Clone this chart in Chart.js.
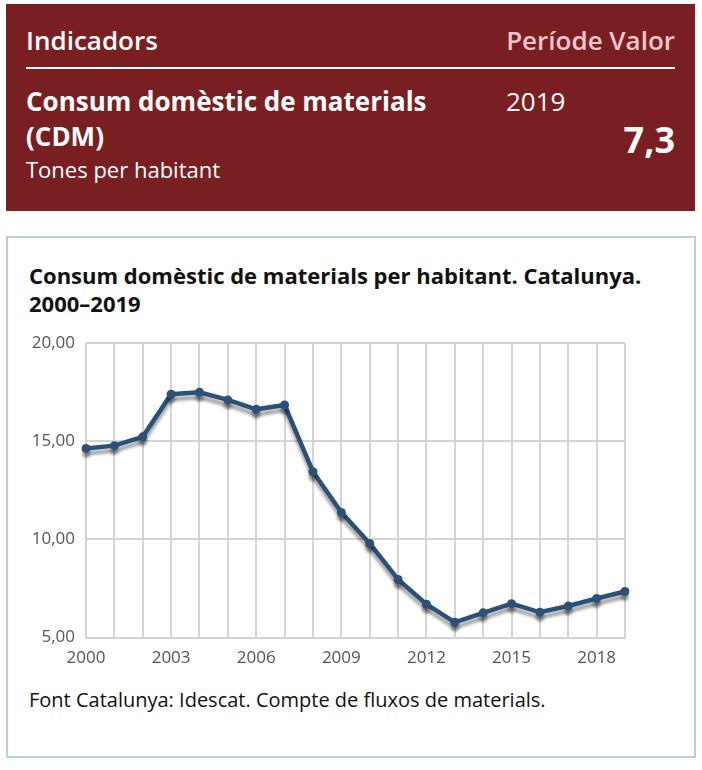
<!DOCTYPE html>
<html>
<head>
<meta charset="utf-8">
<script src="https://cdn.jsdelivr.net/npm/chart.js@4"></script>
<style>
  body { margin: 0; background: #fff; font-family: "Open Sans", sans-serif; }
  .head { position: absolute; left: 6px; top: 4px; width: 689px; height: 207px; background: #7a1f21; color: #fff; }
  .head .t { position: absolute; font-size: 26px; line-height: 35px; white-space: nowrap; }
  .head hr { position: absolute; left: 20px; top: 63px; width: 649px; margin: 0; border: 0; border-top: 2px solid #fff; }
  .panel { position: absolute; left: 6px; top: 236px; width: 686px; height: 518px; border: 2px solid #b9cde3; }
  .title { position: absolute; left: 29px; top: 261px; font-size: 22px; font-weight: bold; line-height: 28px; color: #111; white-space: nowrap; }
  .src { position: absolute; left: 29px; top: 686px; font-size: 20px; line-height: 28px; color: #111; white-space: nowrap; }
  #wrap { position: absolute; left: 10px; top: 322px; width: 670px; height: 356px; }
</style>
</head>
<body>
<div class="head">
  <div class="t" style="left:20px; top:19px; font-weight:600;">Indicadors</div>
  <div class="t" style="right:20px; top:19px; color:#f3c6cd; font-weight:600;">Període Valor</div>
  <hr>
  <div class="t" style="left:20px; top:80px; font-weight:bold;">Consum domèstic de materials<br>(CDM)</div>
  <div class="t" style="left:20px; top:150px; font-size:22px; line-height:30px;">Tones per habitant</div>
  <div class="t" style="left:500px; top:80px;">2019</div>
  <div class="t" style="right:20px; top:114px; font-size:36px; line-height:44px; font-weight:bold;">7,3</div>
</div>
<div class="panel"></div>
<div class="title">Consum domèstic de materials per habitant. Catalunya.<br>2000–2019</div>
<div id="wrap"><canvas id="chart"></canvas></div>
<div class="src">Font Catalunya: Idescat. Compte de fluxos de materials.</div>
<script>
const years = ['2000', '2001', '2002', '2003', '2004', '2005', '2006', '2007', '2008', '2009',
               '2010', '2011', '2012', '2013', '2014', '2015', '2016', '2017', '2018', '2019'];
const cdmValues = [14.64, 14.78, 15.23, 17.40, 17.50, 17.11, 16.63, 16.85, 13.45, 11.38,
                   9.80, 7.96, 6.70, 5.78, 6.26, 6.73, 6.29, 6.61, 6.99, 7.35];
const yTicks = [5, 10, 15, 20];

const lineColor = '#2b5079';
const gridColor = '#d4d4d4';

// ombra grisa sota la línia
const shadowPlugin = {
    id: 'lineShadow',
    beforeDatasetDraw(chart) {
        const ctx = chart.ctx;
        ctx.save();
        ctx.shadowColor = 'rgba(0, 0, 0, 0.35)';
        ctx.shadowBlur = 3;
        ctx.shadowOffsetX = 0;
        ctx.shadowOffsetY = 5;
    },
    afterDatasetDraw(chart) {
        chart.ctx.restore();
    }
};

new Chart(document.getElementById('chart'), {
    type: 'line',
    data: {
        labels: years,
        datasets: [{
            data: cdmValues,
            borderColor: lineColor,
            backgroundColor: lineColor,
            borderWidth: 4.5,
            pointRadius: 4.5,
            pointBorderWidth: 0,
            tension: 0
        }]
    },
    options: {
        responsive: true,
        maintainAspectRatio: false,
        animation: false,
        layout: { padding: { top: 0, right: 55, left: 0, bottom: 0 } },
        plugins: {
            legend: { display: false },
            tooltip: { enabled: false }
        },
        scales: {
            x: {
                offset: false,
                grid: { color: gridColor, lineWidth: 2, drawTicks: false },
                border: { color: gridColor, width: 2 },
                ticks: {
                    autoSkip: false,
                    maxRotation: 0,
                    padding: 10,
                    color: '#555',
                    font: { family: 'Open Sans', size: 17 },
                    callback: function(value, index) {
                        return index % 3 === 0 ? years[index] : '';
                    }
                }
            },
            y: {
                min: 5,
                max: 20,
                afterBuildTicks: function(axis) {
                    axis.ticks = yTicks.map(v => ({ value: v }));
                },
                afterFit: function(axis) { axis.width = 76; },
                grid: { color: gridColor, lineWidth: 2, drawTicks: false },
                border: { color: gridColor, width: 2 },
                ticks: {
                    padding: 11,
                    color: '#555',
                    font: { family: 'Open Sans', size: 17 },
                    callback: function(value) {
                        return value.toFixed(2).replace('.', ',');
                    }
                }
            }
        }
    },
    plugins: [shadowPlugin]
});
</script>
</body>
</html>
